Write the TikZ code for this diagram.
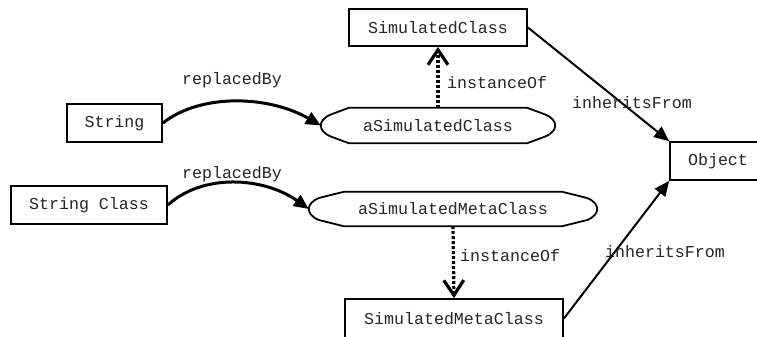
\documentclass[tikz,border=0pt]{standalone}
\usepackage{fontspec}
\setmonofont{Liberation Mono}
\usetikzlibrary{arrows.meta,calc}
\newcommand\octoshape[2]{%
  \draw[line width=1.8bp,line join=round]
    ($(#1.north west)+(#2,0)$) -- ($(#1.north east)+(-#2,0)$)
    -- ($(#1.east)+(-10,-11)$)
    .. controls ($(#1.east)+(-3,-8)$) and ($(#1.east)+(0,-4)$) .. (#1.east)
    .. controls ($(#1.east)+(0,4)$) and ($(#1.east)+(-3,8)$) .. ($(#1.east)+(-10,11)$)
    -- ($(#1.south east)+(-#2,0)$) -- ($(#1.south west)+(#2,0)$)
    -- ($(#1.west)+(10,11)$)
    .. controls ($(#1.west)+(3,8)$) and ($(#1.west)+(0,4)$) .. (#1.west)
    .. controls ($(#1.west)+(0,-4)$) and ($(#1.west)+(3,-8)$) .. ($(#1.west)+(10,-11)$)
    -- cycle;}
\begin{document}
\begin{tikzpicture}[x=1bp,y=-1bp,
  every node/.style={font=\ttfamily\fontsize{16.7}{20}\selectfont,inner sep=0pt,text=black!85},
  box/.style={draw=black,line width=1.8bp,minimum height=38bp},
  oval/.style={minimum height=35bp},
  lbl/.style={},
  replace/.style={line width=3bp,-{Triangle[length=15bp,width=13bp]}},
  inherit/.style={line width=2bp,-{Triangle[length=15bp,width=13bp]}},
  inst/.style={line width=3.2bp,dash pattern=on 3bp off 2bp,-{Straight Barb[length=15bp,width=20bp,line width=3.2bp]}}]
\useasboundingbox (0,0) rectangle (757,336);
\clip (0,0) rectangle (757,336);
\fill[white] (0,0) rectangle (757,336);

\node[box,minimum width=178bp,minimum height=37bp] (sc) at (438,27.5) {SimulatedClass};
\node[box,minimum width=95bp] (str) at (114.5,123) {String};
\node[box,minimum width=156bp] (strc) at (89,205) {String Class};
\node[box,minimum width=96bp] (obj) at (718,161) {Object};
\node[box,minimum width=218bp,minimum height=39bp] (smc) at (454,318.5) {SimulatedMetaClass};
\node[oval,minimum width=234bp] (asc) at (438,125.5) {aSimulatedClass};
\node[oval,minimum width=288bp,minimum height=34bp] (asmc) at (453,209) {aSimulatedMetaClass};
\octoshape{asc}{28}
\octoshape{asmc}{35}

\draw[replace] (str.east) .. controls +(38,-30) and +(-52,-30) .. (asc.west);
\draw[replace] (strc.east) .. controls +(35,-32) and +(-45,-32) .. (asmc.west);
\draw[inst] (asc.north) -- (sc.south);
\draw[inst] (asmc.south) -- (smc.north);
\draw[inherit] (sc.east) -- (obj.north west);
\draw[inherit] (smc.east) -- (obj.south west);

\node[lbl] (l1) at (232,80) {replacedBy};
\node[lbl] (l2) at (232,174) {replacedBy};
\node[lbl,anchor=west] (l3) at (447,83) {instanceOf};
\node[lbl,anchor=west] (l4) at (460,256) {instanceOf};
\node[lbl] (l5) at (632,103) {inheritsFrom};
\node[lbl] (l6) at (665,252) {inheritsFrom};
\end{tikzpicture}
\end{document}
